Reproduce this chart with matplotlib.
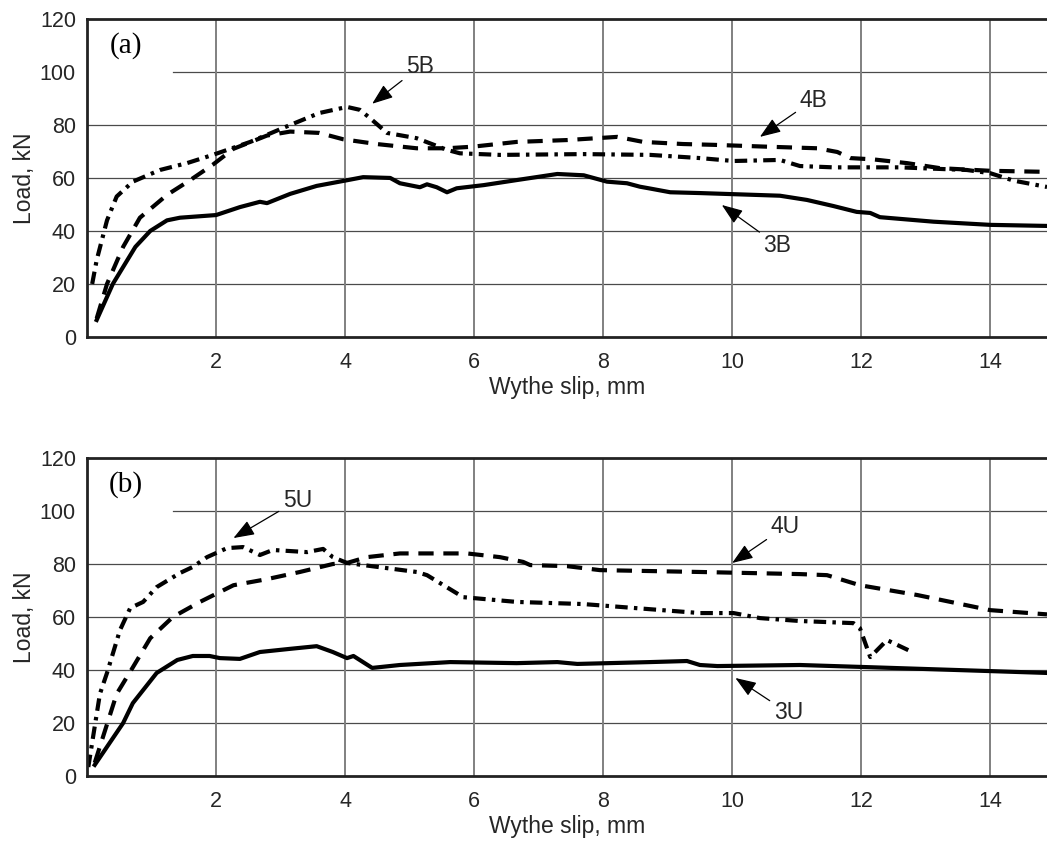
import matplotlib
matplotlib.use("Agg")
import matplotlib.pyplot as plt

plt.rcParams['font.family'] = ['Liberation Sans', 'DejaVu Sans']
plt.rcParams['lines.scale_dashes'] = False

# ---- panel (a) data ----
x_3b = [0.15, 0.4, 0.55, 0.75, 0.98, 1.24, 1.44, 2.0, 2.37, 2.68, 2.79, 3.15, 3.56, 4.0, 4.28, 4.7, 4.85,
        5.16, 5.27, 5.42, 5.58, 5.73, 6.15, 6.66, 7.29, 7.7, 8.06, 8.37, 8.57, 8.73, 9.04, 9.5, 10.74,
        11.16, 11.57, 11.93, 12.14, 12.29, 13.12, 14.0, 14.88]
y_3b = [6.4, 20, 26, 34, 40, 44, 45, 46, 49, 51, 50.5, 54, 57, 59, 60.3, 60, 58,
        56.5, 57.6, 56.5, 54.6, 56.1, 57.3, 59.2, 61.5, 61, 58.6, 58, 56.7, 56, 54.6, 54.3, 53.3,
        51.7, 49.4, 47.2, 46.8, 45.2, 43.5, 42.3, 41.9]

x_4b = [0.15, 0.31, 0.56, 0.82, 1.24, 1.6, 1.95, 2.27, 2.79, 3.15, 3.6, 3.97, 4.49, 5.11, 5.58, 5.98,
        6.66, 7.44, 8.22, 8.62, 9.24, 9.71, 10.54, 11.32, 11.63, 11.83, 12.19, 12.71, 13.22, 14.0, 14.88]
y_4b = [7, 20, 34, 45, 53.6, 59.2, 65, 71, 76, 77.5, 77, 74.6, 72.8, 71.2, 71.2, 71.8,
        73.6, 74.3, 75.5, 73.6, 72.8, 72.5, 71.8, 71.2, 69.8, 67.5, 67, 65.6, 63.7, 62.7, 62.3]

x_5b = [0.08, 0.15, 0.31, 0.46, 0.71, 1.13, 1.55, 1.95, 2.53, 3.15, 3.6, 4.03, 4.23, 4.39, 4.65, 5.11,
        5.58, 5.78, 6.4, 7.7, 8.73, 9.5, 10.02, 10.74, 11.05, 11.57, 12.6, 13.64, 14.0, 14.36, 14.88]
y_5b = [20, 29, 44, 53, 58.6, 63, 65.6, 68.7, 73.6, 80, 84.5, 86.8, 85.7, 82.5, 77, 75,
        70.6, 69.3, 68.7, 69, 68.7, 67.5, 66.4, 66.8, 64.5, 64, 64, 63, 61.8, 59, 56.6]

# ---- panel (b) data ----
x_3u = [0.12, 0.56, 0.71, 1.08, 1.4, 1.64, 1.9, 2.06, 2.37, 2.68, 3.15, 3.56, 3.81, 4.03, 4.13, 4.42,
        4.85, 5.63, 6.66, 7.29, 7.6, 8.73, 9.3, 9.5, 9.77, 11.05, 12.09, 14.0, 14.88]
y_3u = [4.2, 20, 27.5, 38.9, 43.8, 45.3, 45.3, 44.5, 44.2, 46.8, 48, 49, 46.8, 44.5, 45.3, 40.8,
        41.9, 43, 42.6, 43, 42.3, 43, 43.4, 41.9, 41.5, 41.9, 41.1, 39.6, 38.9]

x_4u = [0.12, 0.46, 0.71, 0.98, 1.33, 1.75, 2.27, 2.79, 3.3, 3.81, 4.03, 4.34, 4.85, 5.89, 6.4, 6.76,
        6.87, 7.44, 7.95, 9.5, 11.05, 11.47, 11.98, 12.87, 14.0, 14.88]
y_4u = [5, 31, 41, 52, 60, 65.7, 72, 74.3, 77, 80, 80.4, 82.6, 84, 84, 82.6, 80.8,
        79.6, 79.2, 77.7, 77, 76.2, 75.8, 72, 68.3, 62.6, 61]

x_5u = [0.02, 0.2, 0.31, 0.51, 0.67, 0.87, 1.08, 1.44, 1.64, 1.86, 2.17, 2.42, 2.68, 2.88, 3.41, 3.66,
        3.81, 4.03, 5.11, 5.27, 5.83, 6.66, 7.69, 9.5, 10.02, 10.43, 11.05, 11.88, 11.98, 12.14, 12.4, 12.73]
y_5u = [3.4, 31, 38.9, 55, 63.4, 65.7, 71.3, 76.6, 78.9, 82.6, 86, 86.4, 83.4, 85.3, 84.5, 85.7,
        82.6, 80.4, 77, 75.8, 67.5, 65.7, 64.9, 61.5, 61.5, 59.6, 58.5, 57.7, 55.8, 44.9, 51.3, 47.5]

x_ticks = [2, 4, 6, 8, 10, 12, 14]
y_ticks = [0, 20, 40, 60, 80, 100, 120]

# label text, text position, arrow tip
notes_a = [("5B", (5.16, 102), (4.42, 88)),
           ("4B", (11.26, 89.4), (10.43, 75.5)),
           ("3B", (10.7, 34.7), (9.84, 49.8))]
notes_b = [("5U", (3.26, 104), (2.27, 89.8)),
           ("4U", (10.82, 94), (10.0, 80.4)),
           ("3U", (10.87, 23.8), (10.05, 37))]

TEXT = '#262626'
DASHED = (0, (11, 7))
DASHDOT = (0, (9, 4.5, 2.5, 4.5))


def style_axes(ax, tag, notes):
    ax.set_xlim(0, 14.88)
    ax.set_ylim(0, 120)
    ax.set_xticks(x_ticks)
    ax.set_yticks(y_ticks)
    ax.tick_params(axis='both', length=0, labelsize=15.5, labelcolor=TEXT)
    ax.tick_params(axis='x', pad=11)
    ax.tick_params(axis='y', pad=8)
    for y in y_ticks[1:-1]:
        # the gridline at 100 stops short of the panel tag
        start = 0.09 if y == 100 else 0
        ax.axhline(y, xmin=start, color='#4a4a4a', lw=0.9, zorder=1)
    for x in x_ticks:
        ax.axvline(x, color='#808080', lw=1.4, zorder=1)
    for side in ['left', 'top', 'bottom']:
        ax.spines[side].set_linewidth(2)
        ax.spines[side].set_color('#222222')
        ax.spines[side].set_zorder(5)
    ax.spines['right'].set_visible(False)
    ax.set_xlabel('Wythe slip, mm', fontsize=16.5, color=TEXT, labelpad=2)
    ax.set_ylabel('Load, kN', fontsize=16.5, color=TEXT, labelpad=3)
    ax.text(0.6, 110, tag, family=['Liberation Serif', 'DejaVu Serif'], fontsize=21,
            ha='center', va='center', zorder=4)
    for label, xy_text, xy_tip in notes:
        ax.annotate(label, xy=xy_tip, xytext=xy_text, fontsize=16.5, color=TEXT,
                    ha='center', va='center', zorder=6,
                    arrowprops=dict(arrowstyle='-|>,head_length=0.8,head_width=0.3',
                                    mutation_scale=16, color='black', lw=0.9,
                                    shrinkA=1, shrinkB=0))


fig = plt.figure(figsize=(10.47, 8.46), dpi=100)
ax_a = fig.add_axes([0.0831, 0.6017, 0.9169, 0.3759])
ax_b = fig.add_axes([0.0831, 0.0827, 0.9169, 0.3759])

ax_a.plot(x_3b, y_3b, color='black', lw=3, zorder=3)
ax_a.plot(x_4b, y_4b, color='black', lw=3, ls=DASHED, dash_capstyle='butt', zorder=3)
ax_a.plot(x_5b, y_5b, color='black', lw=3, ls=DASHDOT, dash_capstyle='butt', zorder=3)
style_axes(ax_a, '(a)', notes_a)

ax_b.plot(x_3u, y_3u, color='black', lw=3, zorder=3)
ax_b.plot(x_4u, y_4u, color='black', lw=3, ls=DASHED, dash_capstyle='butt', zorder=3)
ax_b.plot(x_5u, y_5u, color='black', lw=3, ls=DASHDOT, dash_capstyle='butt', zorder=3)
style_axes(ax_b, '(b)', notes_b)

fig.savefig('out.png', dpi=100)
